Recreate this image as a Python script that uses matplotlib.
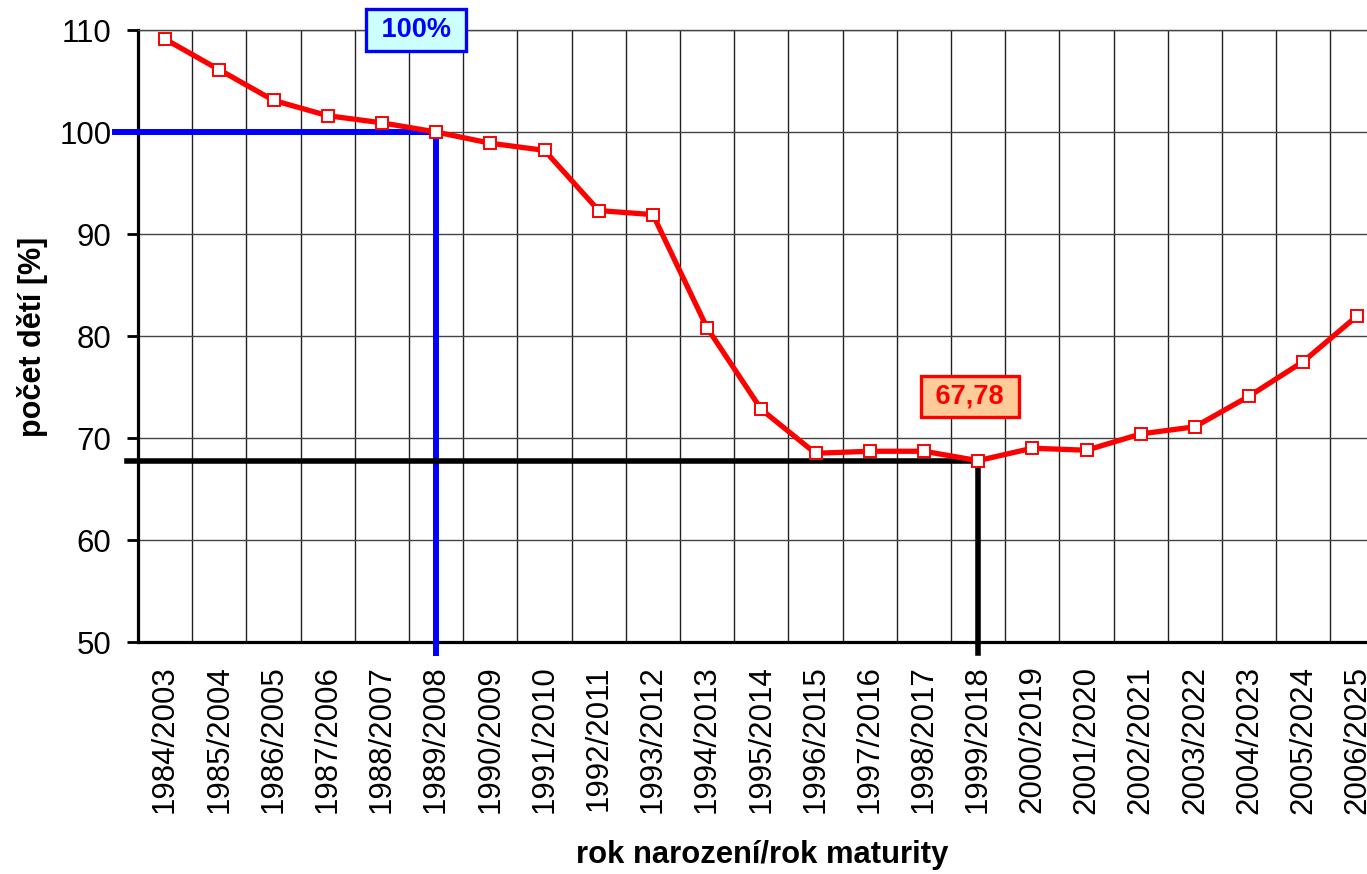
import matplotlib
matplotlib.use('Agg')
import matplotlib.pyplot as plt
import numpy as np

plt.rcParams['font.family'] = ['Liberation Sans', 'DejaVu Sans']

# rok narozeni / rok maturity
years = ['1984/2003', '1985/2004', '1986/2005', '1987/2006', '1988/2007',
         '1989/2008', '1990/2009', '1991/2010', '1992/2011', '1993/2012',
         '1994/2013', '1995/2014', '1996/2015', '1997/2016', '1998/2017',
         '1999/2018', '2000/2019', '2001/2020', '2002/2021', '2003/2022',
         '2004/2023', '2005/2024', '2006/2025']
# pocet deti v % (1989 = 100)
pct = [109.1, 106.1, 103.1, 101.6, 100.9,
       100.0, 98.9, 98.2, 92.3, 91.9,
       80.8, 72.8, 68.5, 68.7, 68.7,
       67.78, 69.0, 68.8, 70.4, 71.1,
       74.1, 77.5, 82.0]

ref_hi = '1989/2008'
ref_lo = '1999/2018'
lab_hi = '100%'
lab_lo = '67,78'

fig = plt.figure(figsize=(13.67, 8.74), dpi=100)
# plot area runs a bit past the right edge of the picture, like the original
ax = fig.add_axes([138/1367, 1-642/874, 1246.6/1367, 612/874])

x = np.arange(len(years))
ax.set_xlim(-0.5, len(years)-0.5)
ax.set_ylim(50, 110)
ax.set_yticks(np.arange(50, 111, 10))
ax.set_xticks(x)
ax.set_xticklabels(years, rotation=90, va='top', ha='center')
ax.set_xticks(x[:-1] + 0.5, minor=True)

ax.grid(True, which='minor', axis='x', color='#222222', lw=1.0)
ax.grid(True, which='major', axis='y', color='#444444', lw=1.0)
ax.set_axisbelow(True)

for s in ['left', 'bottom']:
    ax.spines[s].set_linewidth(2.3)
ax.spines['right'].set_visible(False)
ax.spines['top'].set_linewidth(1.0)
ax.spines['top'].set_color('#444444')

ax.tick_params(axis='y', which='major', direction='out', length=8, width=2,
               labelsize=22.5, pad=11)
ax.tick_params(axis='x', which='major', length=0, labelsize=22.5, pad=17)
ax.tick_params(axis='x', which='minor', length=0)

# reference lines
ih = years.index(ref_hi)
il = years.index(ref_lo)
vh = pct[ih]
vl = pct[il]
ax.plot([-0.92, ih, ih], [vh, vh, 48.95], color='#0000ff', lw=4.3,
        solid_joinstyle='miter', clip_on=False, zorder=3)
ax.plot([-0.70, il, il], [vl, vl, 48.92], color='black', lw=4.0,
        solid_joinstyle='miter', clip_on=False, zorder=3)

ax.plot(x, pct, color='#ff0000', lw=3.8, marker='s', markersize=9,
        markerfacecolor='white', markeredgecolor='#ff0000', markeredgewidth=1.4,
        zorder=4, clip_on=False)

ax.text(ih - 0.37, 110, ' ' + lab_hi + ' ', color='#0000ff', fontsize=19.5,
        fontweight='bold', ha='center', va='center', zorder=5, clip_on=False,
        bbox=dict(boxstyle='square,pad=0.28', fc='#ccffff', ec='#0000ff', lw=2.4))
ax.text(il - 0.15, 74.1, ' ' + lab_lo + ' ', color='#ff0000', fontsize=19.5,
        fontweight='bold', ha='center', va='center', zorder=5,
        bbox=dict(boxstyle='square,pad=0.28', fc='#ffcc99', ec='#ff0000', lw=2.4))

fig.text(33/1367, 1-337/874, 'počet dětí [%]', rotation=90, fontsize=22,
         fontweight='bold', ha='center', va='center')
fig.text(762/1367, 1-855/874, 'rok narození/rok maturity', fontsize=22.3,
         fontweight='bold', ha='center', va='center')

fig.savefig('out.png', dpi=100)
